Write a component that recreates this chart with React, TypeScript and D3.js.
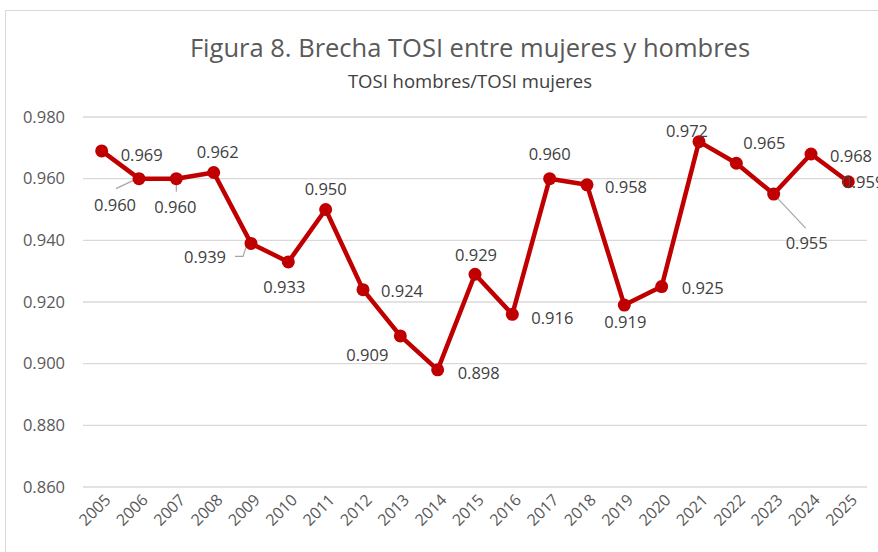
import React from "react";
import * as d3 from "d3";

const years = ["2005","2006","2007","2008","2009","2010","2011","2012","2013","2014","2015","2016","2017","2018","2019","2020","2021","2022","2023","2024","2025"];
const ratio = [0.969,0.960,0.960,0.962,0.939,0.933,0.950,0.924,0.909,0.898,0.929,0.916,0.960,0.958,0.919,0.925,0.972,0.965,0.955,0.968,0.959];
const yTicks = [0.86,0.88,0.90,0.92,0.94,0.96,0.98];

// label placement (dx, dy from the marker) — layout only
const labelOffsets: [number, number][] = [
  [40,4],[-24,27],[-1,29],[4,-20],[-46,14],[-4,25],[0,-20],[39,2],[-33,19],[41,3],
  [1,-19],[40,4],[0,-24],[39,2],[1,17],[41,2],[-12,-10],[28,-20],[33,49],[40,2],[15,0]
];
// leader lines: index -> polyline relative to marker
const leaders: Record<number, [number, number][]> = {
  1: [[-4,1],[-23,10]],
  2: [[0,4],[0,13]],
  4: [[-4,1],[-8,13],[-16,13]],
  18: [[0,0],[32,34]],
};

const W = 878, H = 552;
const FONT = "'Open Sans', 'Noto Sans', sans-serif";

export default function App() {
  const x = d3.scaleBand().domain(years).range([83, 867]);
  const y = d3.scaleLinear().domain([0.86, 0.98]).range([487, 117]);
  const cx = (d: string) => (x(d) as number) + x.bandwidth() / 2;
  const line = d3.line<number>().x((_, i) => cx(years[i])).y((v) => y(v));

  return (
    <svg width={W} height={H} style={{ position: "absolute", left: 0, top: 0, background: "#fff" }}>
      <rect x={5.5} y={10.5} width={900} height={600} fill="#fff" stroke="#d9d9d9" />
      <text x={470} y={57} textAnchor="middle" fontFamily={FONT} fontSize={25.5} fill="#595959">Figura 8. Brecha TOSI entre mujeres y hombres</text>
      <text x={470} y={88} textAnchor="middle" fontFamily={FONT} fontSize={18.5} fill="#404040">TOSI hombres/TOSI mujeres</text>
      {yTicks.map((t) => (
        <g key={t}>
          <line x1={83} x2={867} y1={y(t)} y2={y(t)} stroke="#d9d9d9" strokeWidth={1.3} />
          <text x={65} y={y(t)} dy="0.35em" textAnchor="end" fontFamily={FONT} fontSize={16.5} fill="#595959">{t.toFixed(3)}</text>
        </g>
      ))}
      {years.map((yr) => (
        <text key={yr} transform={`translate(${cx(yr) + 6},${497}) rotate(-45)`} textAnchor="end" dy="0.35em" fontFamily={FONT} fontSize={16} fill="#595959">{yr}</text>
      ))}
      {Object.entries(leaders).map(([k, pts]) => {
        const i = +k;
        const px = cx(years[i]), py = y(ratio[i]);
        return <polyline key={k} points={pts.map(([a, b]) => `${px + a},${py + b}`).join(" ")} fill="none" stroke="#a6a6a6" strokeWidth={1.2} />;
      })}
      <path d={line(ratio) as string} fill="none" stroke="#c00000" strokeWidth={4.5} strokeLinejoin="round" />
      {ratio.map((v, i) => (
        <circle key={i} cx={cx(years[i])} cy={y(v)} r={6.5} fill="#c00000" />
      ))}
      {ratio.map((v, i) => (
        <text key={"l" + i} x={cx(years[i]) + labelOffsets[i][0]} y={y(v) + labelOffsets[i][1]} dy="0.35em" textAnchor="middle" fontFamily={FONT} fontSize={16.5} fill="#404040">{v.toFixed(3)}</text>
      ))}
    </svg>
  );
}
